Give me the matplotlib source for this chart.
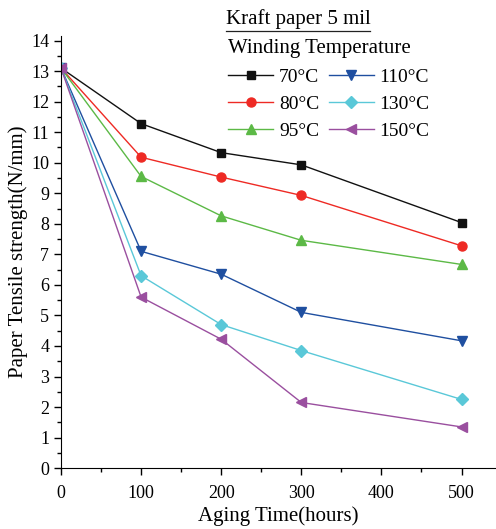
import matplotlib.pyplot as plt
from matplotlib.ticker import MultipleLocator

plt.rcParams['font.family'] = ['Liberation Serif', 'DejaVu Serif']

# Aging time (hours) and tensile strength (N/mm) per winding temperature
hours = [0, 100, 200, 300, 500]
t70 = [13.1, 11.28, 10.33, 9.93, 8.04]
t80 = [13.1, 10.18, 9.53, 8.93, 7.28]
t95 = [13.1, 9.55, 8.26, 7.46, 6.67]
t110 = [13.1, 7.1, 6.35, 5.1, 4.17]
t130 = [13.1, 6.3, 4.7, 3.85, 2.25]
t150 = [13.1, 5.6, 4.22, 2.15, 1.35]
labels = ['70\u00b0C', '80\u00b0C', '95\u00b0C', '110\u00b0C', '130\u00b0C', '150\u00b0C']

series = [t70, t80, t95, t110, t130, t150]
colors = ['#111111', '#ee2a24', '#5cb946', '#1f4fa0', '#5ac8d8', '#9a4f9f']
markers = ['s', 'o', '^', 'v', 'D', '<']
sizes = [5.5, 6.5, 7.5, 7.5, 6.5, 7.5]

fig = plt.figure(figsize=(4.96, 5.29), dpi=100)
ax = fig.add_axes([0.123, 0.115, 0.877, 0.817])

for ys, lab, c, m, s in zip(series, labels, colors, markers, sizes):
    ax.plot(hours, ys, color=c, marker=m, markersize=s, lw=1.0, label=lab)

ax.set_xlim(0, 543)
ax.set_ylim(0, 14.15)
ax.xaxis.set_major_locator(MultipleLocator(100))
ax.xaxis.set_minor_locator(MultipleLocator(50))
ax.yaxis.set_major_locator(MultipleLocator(1))
ax.yaxis.set_minor_locator(MultipleLocator(0.5))
ax.spines['top'].set_visible(False)
ax.spines['right'].set_visible(False)
ax.tick_params(which='both', direction='out', labelsize=13, width=1)
ax.tick_params(which='major', length=5)
ax.tick_params(which='minor', length=3)
ax.tick_params(axis='x', pad=7)
ax.set_xlabel('Aging Time(hours)', fontsize=15, labelpad=3)
ax.set_ylabel('Paper Tensile strength(N/mm)', fontsize=15, labelpad=2)

leg = ax.legend(ncol=2, loc='upper left', bbox_to_anchor=(0.437, 0.948),
                bbox_transform=fig.transFigure, frameon=False, fontsize=14,
                handlelength=2.3, handletextpad=0.3, columnspacing=0.5,
                labelspacing=0.5, borderpad=0.1,
                title='Winding Temperature', title_fontsize=15,
                alignment='left')

t = fig.text(0.455, 0.955, 'Kraft paper 5 mil', fontsize=15, va='baseline')
fig.canvas.draw()
bb = t.get_window_extent().transformed(fig.transFigure.inverted())
fig.add_artist(plt.Line2D([bb.x0, bb.x1], [bb.y0 - 0.004, bb.y0 - 0.004],
                          transform=fig.transFigure, color='#222222', lw=0.9))

fig.savefig('out.png', dpi=100)
